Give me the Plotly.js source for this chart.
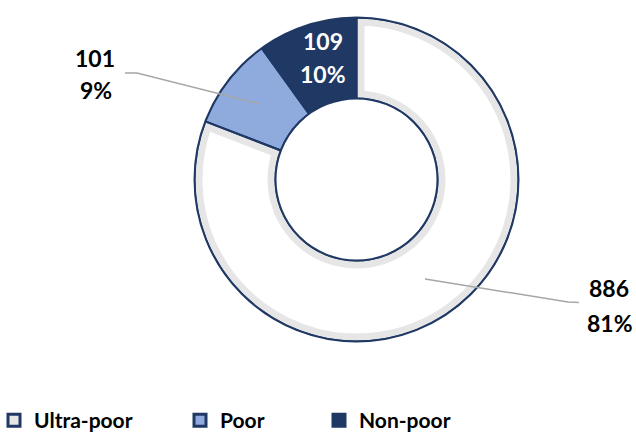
<!DOCTYPE html>
<html><head><meta charset="utf-8">
<script src="https://cdn.plot.ly/plotly-3.0.1.min.js"></script>
<style>html,body{margin:0;padding:0;background:#fff}#chart{width:636px;height:432px}</style>
</head><body><div id="chart"></div>
<script>
// ---- data ----
const labels = ['Ultra-poor', 'Poor', 'Non-poor'];
const values = [886, 101, 109];

// ---- styling / geometry ----
const W = 636, H = 432;
const CX = 356.5, CY = 179.5, R = 162, HOLE = 0.5;
const px = x => x / W, py = y => 1 - y / H;
const NAVY = '#1f3864';
const fillColors = ['#ffffff', '#8faadc', '#1f3864'];
const legendColors = ['#e7e6e6', '#8faadc', '#1f3864'];
const bandColors = ['#e7e6e6', '#8faadc', '#1f3864'];
const bandWidths = [16, 0, 0];
const FONT = 'Lato, "Open Sans", sans-serif';

const total = values.reduce((a, b) => a + b, 0);
const pct = v => Math.round(v / total * 100) + '%';
const domain = {x: [px(CX - R), px(CX + R)], y: [py(CY + R), py(CY - R)]};

const common = {type: 'pie', sort: false, direction: 'clockwise', rotation: 0, hole: HOLE,
  domain: domain, textinfo: 'none', hoverinfo: 'skip'};

const traces = [];
const legendIds = ['legend', 'legend2', 'legend3'];
labels.forEach((lab, i) => {
  traces.push(Object.assign({}, common, {
    labels: [lab], values: [values[i]],
    marker: {colors: [legendColors[i]], line: {color: NAVY, width: 3}},
    showlegend: true, legend: legendIds[i]
  }));
});
traces.push(Object.assign({}, common, {
  labels: labels, values: values,
  marker: {colors: fillColors, line: {color: bandColors, width: bandWidths}},
  showlegend: false
}));
traces.push(Object.assign({}, common, {
  labels: labels, values: values,
  marker: {colors: labels.map(() => 'rgba(0,0,0,0)'), line: {color: NAVY, width: 2}},
  showlegend: false
}));

function circle(r, lineColor, lineWidth, fill) {
  return {type: 'circle', xref: 'paper', yref: 'paper', xsizemode: 'pixel', ysizemode: 'pixel',
    xanchor: px(CX), yanchor: py(CY), x0: -r, x1: r, y0: -r, y1: r,
    line: {color: lineColor, width: lineWidth}, fillcolor: fill || 'rgba(0,0,0,0)', layer: 'above'};
}
function path(pts) {
  return {type: 'path', xref: 'paper', yref: 'paper', layer: 'above',
    path: pts.map((p, i) => (i ? 'L' : 'M') + px(p[0]) + ',' + py(p[1])).join(' '),
    line: {color: '#a6a6a6', width: 1.5}};
}
const shapes = [
  circle(R + 7, '#ffffff', 14),
  circle(R, NAVY, 2),
  circle(R * HOLE, NAVY, 2, '#ffffff'),
  path([[125, 73], [137, 73], [260, 104]]),
  path([[425, 279], [568, 302], [579, 302.5]])
];

const labelPos = [
  {v: [609, 287.5], p: [610, 322.5], color: '#000'},
  {v: [95, 58.5], p: [96, 90.5], color: '#000'},
  {v: [322.5, 41.5], p: [322.5, 74], color: '#fff'}
];
const annotations = [];
values.forEach((v, i) => {
  const lp = labelPos[i];
  [[String(v), lp.v], [pct(v), lp.p]].forEach(([t, pos]) => {
    annotations.push({text: t, xref: 'paper', yref: 'paper', x: px(pos[0]), y: py(pos[1]),
      xanchor: 'center', yanchor: 'middle', showarrow: false,
      font: {family: FONT, size: 23, color: lp.color, weight: 'bold'}});
  });
});

const legendX = [0, 186, 325];
const layout = {
  width: W, height: H, margin: {l: 0, r: 0, t: 0, b: 0, autoexpand: false},
  paper_bgcolor: '#fff', plot_bgcolor: '#fff',
  shapes: shapes, annotations: annotations, showlegend: true
};
legendIds.forEach((id, i) => {
  layout[id] = {x: px(legendX[i]), y: py(420.5), xanchor: 'left', yanchor: 'middle',
    bgcolor: 'rgba(0,0,0,0)', borderwidth: 0, indentation: -6,
    font: {family: FONT, size: 21, color: '#000', weight: 'bold'}};
});

Plotly.newPlot('chart', traces, layout, {displayModeBar: false, staticPlot: true});
</script>
</body></html>
